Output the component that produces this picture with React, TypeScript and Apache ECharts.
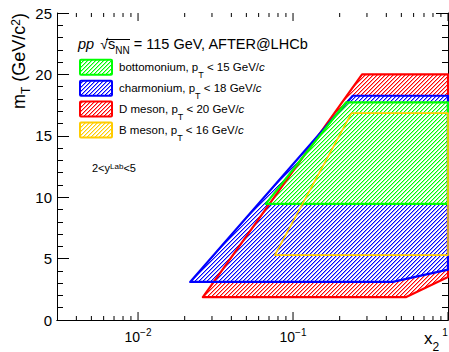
import React, { useEffect, useRef } from 'react';
import * as echarts from 'echarts';

const FONT = '"Liberation Sans", Arial, Helvetica, sans-serif';

// Polygon corners: x2 (log) and mT (GeV/c^2)
const dMesonX = [0.0262, 0.538, 1, 1, 0.279];
const dMesonY = [1.87, 1.87, 3.5, 20, 20];
const charmoniumX = [0.0217, 0.44, 1, 1, 0.243];
const charmoniumY = [3.1, 3.1, 4.1, 18.26, 18.26];
const bottomoniumX = [0.0668, 1, 1, 0.2204];
const bottomoniumY = [9.46, 9.46, 17.73, 17.73];
const bMesonX = [0.0763, 1, 1, 0.2384];
const bMesonY = [5.28, 5.28, 16.85, 16.85];

const legendNames = ['bottomonium', 'charmonium', 'D meson', 'B meson'];
const legendPtMax = [15, 18, 20, 16];
const legendColors = ['#00ff00', '#0000ff', '#ff0000', '#ffcc00'];

const xMajorTicks = [0.01, 0.1, 1];
const xMinorTicks = [
  0.004, 0.005, 0.006, 0.007, 0.008, 0.009,
  0.02, 0.03, 0.04, 0.05, 0.06, 0.07, 0.08, 0.09,
  0.2, 0.3, 0.4, 0.5, 0.6, 0.7, 0.8, 0.9,
];

const RED = '#ff0000';
const BLUE = '#0000ff';
const GREEN = '#00ff00';
const YELLOW = '#ffcc00';

function makeHatch(color: string) {
  const c = document.createElement('canvas');
  c.width = 4;
  c.height = 4;
  const ctx = c.getContext('2d')!;
  ctx.fillStyle = color;
  for (let r = 0; r < 4; r++) {
    ctx.globalAlpha = 1;
    ctx.fillRect(3 - r, r, 1, 1);
    ctx.globalAlpha = 0.4;
    ctx.fillRect((4 - r) % 4, r, 1, 1);
  }
  return { image: c, repeat: 'repeat', imageWidth: 4, imageHeight: 4 } as any;
}

export default function App() {
  const ref = useRef<HTMLDivElement>(null);

  useEffect(() => {
    if (!ref.current) return;
    const chart = echarts.init(ref.current, undefined, { renderer: 'svg' });

    const hatch: Record<string, any> = {
      [RED]: makeHatch(RED),
      [BLUE]: makeHatch(BLUE),
      [GREEN]: makeHatch(GREEN),
      [YELLOW]: makeHatch(YELLOW),
    };

    const shapes = [
      { xs: dMesonX, ys: dMesonY, color: RED, width: 2.2 },
      { xs: charmoniumX, ys: charmoniumY, color: BLUE, width: 2.2 },
      { xs: bottomoniumX, ys: bottomoniumY, color: GREEN, width: 2.2 },
      { xs: bMesonX, ys: bMesonY, color: YELLOW, width: 1.6 },
    ];

    const tickData = [
      ...xMajorTicks.map((v) => [v, 0, 1]),
      ...xMinorTicks.map((v) => [v, 0, 0]),
    ];

    const tickStyle = { stroke: '#000', lineWidth: 1 };

    const graphics: any[] = [];
    // y-axis title
    graphics.push({
      type: 'text',
      x: 10,
      y: 13,
      rotation: Math.PI / 2,
      style: {
        text: '{a|m}{sub|T}{a| (GeV/c}{sup|2}{a|)}',
        align: 'right',
        verticalAlign: 'top',
        fill: '#000',
        rich: {
          a: { fontSize: 18, fontFamily: FONT, lineHeight: 20, verticalAlign: 'top', fill: '#000' },
          sub: { fontSize: 12, fontFamily: FONT, lineHeight: 31, fill: '#000' },
          sup: { fontSize: 12, fontFamily: FONT, lineHeight: 11, verticalAlign: 'top', fill: '#000' },
        },
      },
    });
    // x-axis title
    graphics.push({
      type: 'text',
      x: 424,
      y: 330,
      style: {
        text: '{a|x}{sub|2}',
        align: 'left',
        verticalAlign: 'top',
        fill: '#000',
        rich: {
          a: { fontSize: 17, fontFamily: FONT, lineHeight: 20, verticalAlign: 'top', fill: '#000' },
          sub: { fontSize: 12, fontFamily: FONT, lineHeight: 33, fill: '#000' },
        },
      },
    });
    // header
    graphics.push({
      type: 'text',
      x: 78,
      y: 36.5,
      style: {
        text: '{i|pp}{r|√}{a|s}{sub|NN}{a| = 115 GeV, AFTER@LHCb}',
        align: 'left',
        verticalAlign: 'top',
        fill: '#000',
        rich: {
          i: { fontSize: 14.5, fontFamily: FONT, fontStyle: 'italic', lineHeight: 18, verticalAlign: 'top', fill: '#000' },
          r: { fontSize: 14.5, fontFamily: FONT, lineHeight: 18, verticalAlign: 'top', fill: '#000', padding: [0, 0, 0, 6] },
          a: { fontSize: 14.5, fontFamily: FONT, lineHeight: 18, verticalAlign: 'top', fill: '#000' },
          sub: { fontSize: 10, fontFamily: FONT, lineHeight: 28, fill: '#000' },
        },
      },
    });
    graphics.push({
      type: 'line',
      shape: { x1: 106, y1: 39.5, x2: 130, y2: 39.5 },
      style: { stroke: '#000', lineWidth: 1 },
    });
    // legend entries
    legendNames.forEach((name, i) => {
      const cy = 67.3 + 20.9 * i;
      const col = legendColors[i];
      graphics.push({
        type: 'rect',
        shape: { x: 80, y: cy - 7.5, width: 32, height: 15, r: 1 },
        style: { fill: hatch[col], stroke: col, lineWidth: 2 },
      });
      graphics.push({
        type: 'text',
        x: 119,
        y: cy + 1.5 - 8,
        style: {
          text: `{a|${name}, p}{sub|T}{a| < ${legendPtMax[i]} GeV/}{it|c}`,
          align: 'left',
          verticalAlign: 'top',
          fill: '#000',
          rich: {
            a: { fontSize: 11.5, fontFamily: FONT, lineHeight: 16, verticalAlign: 'top', fill: '#000' },
            it: { fontSize: 11.5, fontFamily: FONT, fontStyle: 'italic', lineHeight: 16, verticalAlign: 'top', fill: '#000' },
            sub: { fontSize: 9, fontFamily: FONT, lineHeight: 28, fill: '#000' },
          },
        },
      });
    });
    // rapidity annotation
    graphics.push({
      type: 'text',
      x: 92,
      y: 162.5,
      style: {
        text: '{a|2<y}{sup|Lab}{a|<5}',
        align: 'left',
        verticalAlign: 'top',
        fill: '#000',
        rich: {
          a: { fontSize: 11, fontFamily: FONT, lineHeight: 14, verticalAlign: 'top', fill: '#000' },
          sup: { fontSize: 8, fontFamily: FONT, lineHeight: 4, verticalAlign: 'top', fill: '#000' },
        },
      },
    });

    const yAxisBase = {
      type: 'value',
      min: 0,
      max: 25,
      interval: 5,
      splitLine: { show: false },
      axisLine: { show: true, lineStyle: { color: '#000', width: 1 } },
      axisTick: { show: true, inside: true, length: 12, lineStyle: { color: '#000', width: 1 } },
      minorTick: { show: true, splitNumber: 5, length: 6, lineStyle: { color: '#000', width: 1 } },
    };

    const option: any = {
      animation: false,
      grid: { left: 57, right: 1, top: 13, bottom: 32, containLabel: false, outerBoundsMode: 'none' },
      xAxis: [
        {
          type: 'log',
          logBase: 10,
          min: 0.003,
          max: 1,
          position: 'bottom',
          splitLine: { show: false },
          axisLine: { show: true, lineStyle: { color: '#000', width: 1 } },
          axisTick: { show: false },
          minorTick: { show: false },
          axisLabel: {
            interval: 0,
            margin: 7,
            color: '#000',
            hideOverlap: false,
            formatter: (v: number) => {
              const e = Math.log10(v);
              const r = Math.round(e);
              if (Math.abs(e - r) > 1e-6) return '';
              if (r === 0) return '{one|1}';
              return `{b|10}{s|${r < 0 ? '−' : ''}${Math.abs(r)}}`;
            },
            rich: {
              b: { fontSize: 14, fontFamily: FONT, lineHeight: 20, color: '#000' },
              s: { fontSize: 10, fontFamily: FONT, lineHeight: 14, verticalAlign: 'top', color: '#000' },
              one: { fontSize: 10, fontFamily: FONT, lineHeight: 14, verticalAlign: 'top', color: '#000', padding: [0, 6, 0, 0] },
            },
          },
        },
        {
          type: 'log',
          logBase: 10,
          min: 0.003,
          max: 1,
          position: 'top',
          splitLine: { show: false },
          axisLine: { show: true, lineStyle: { color: '#000', width: 1 } },
          axisTick: { show: false },
          axisLabel: { show: false },
        },
      ],
      yAxis: [
        {
          ...yAxisBase,
          position: 'left',
          axisLabel: { show: true, margin: 5, fontSize: 15, fontFamily: FONT, color: '#000' },
        },
        {
          ...yAxisBase,
          position: 'right',
          axisLabel: { show: false },
        },
      ],
      series: [
        {
          type: 'custom',
          name: 'fills',
          xAxisIndex: 0,
          yAxisIndex: 0,
          data: [[0.1, 10, 0], [0.1, 10, 1], [0.1, 10, 2]],
          renderItem: (params: any, api: any) => {
            const s = shapes[params.dataIndex];
            const points = s.xs.map((x, i) => api.coord([x, s.ys[i]]));
            return {
              type: 'group',
              children: [
                { type: 'polygon', shape: { points }, style: { fill: '#fff', stroke: null } },
                { type: 'polygon', shape: { points }, style: { fill: hatch[s.color], stroke: null } },
              ],
            };
          },
        },
        {
          type: 'custom',
          name: 'outlines',
          xAxisIndex: 0,
          yAxisIndex: 0,
          data: [[0.1, 10, 0], [0.1, 10, 1], [0.1, 10, 2], [0.1, 10, 3]],
          renderItem: (params: any, api: any) => {
            const s = shapes[params.dataIndex];
            const points = s.xs.map((x, i) => api.coord([x, s.ys[i]]));
            return {
              type: 'polygon',
              shape: { points },
              style: { fill: 'none', stroke: s.color, lineWidth: s.width, lineJoin: 'round' },
            };
          },
        },
        {
          type: 'custom',
          name: 'xticks',
          xAxisIndex: 0,
          yAxisIndex: 0,
          data: tickData,
          renderItem: (params: any, api: any) => {
            const v = api.value(0);
            const len = api.value(2) ? 8 : 4;
            const b = api.coord([v, 0]);
            const t = api.coord([v, 25]);
            return {
              type: 'group',
              children: [
                { type: 'line', shape: { x1: b[0], y1: b[1], x2: b[0], y2: b[1] - len }, style: tickStyle },
                { type: 'line', shape: { x1: t[0], y1: t[1], x2: t[0], y2: t[1] + len }, style: tickStyle },
              ],
            };
          },
        },
      ],
      graphic: graphics,
    };

    chart.setOption(option);
    return () => chart.dispose();
  }, []);

  return (
    <div
      ref={ref}
      style={{ position: 'fixed', left: 0, top: 0, width: 449, height: 352, background: '#fff' }}
    />
  );
}
